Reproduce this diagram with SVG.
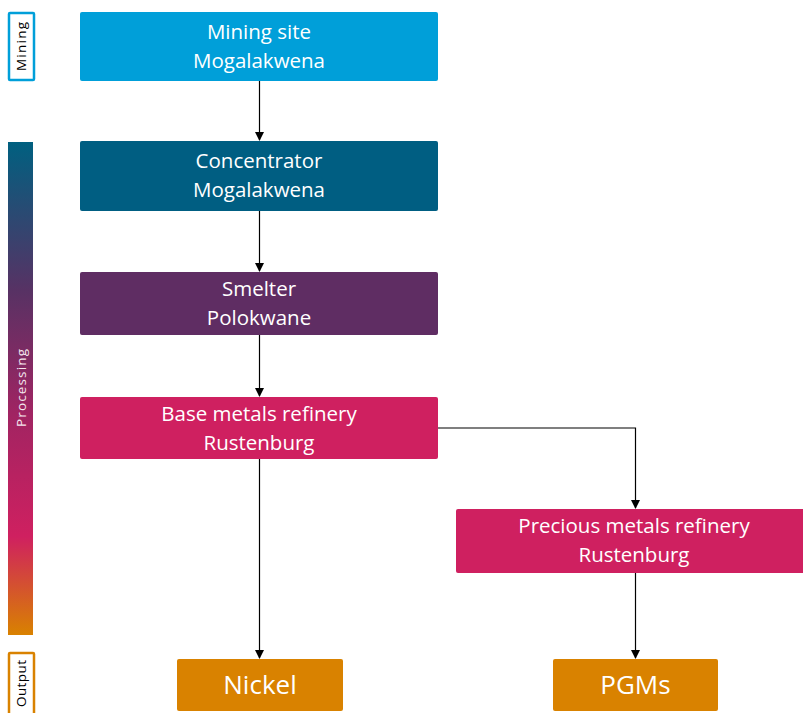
<svg xmlns="http://www.w3.org/2000/svg" width="803" height="713" viewBox="0 0 803 713">
<defs>
<linearGradient id="procGrad" x1="0" y1="0" x2="0" y2="1">
<stop offset="0" stop-color="#006080"/>
<stop offset="0.3" stop-color="#573264"/>
<stop offset="0.55" stop-color="#a02462"/>
<stop offset="0.8" stop-color="#cf2060"/>
<stop offset="1" stop-color="#d98200"/>
</linearGradient>
<marker id="arr" markerWidth="10" markerHeight="10" refX="8" refY="4.5" orient="auto" markerUnits="userSpaceOnUse">
<path d="M0,0 L9,4.5 L0,9 Z" fill="#000"/>
</marker>
<style>
.box text{font-family:"Open Sans","Liberation Sans",sans-serif;font-size:20.5px;fill:#fff;text-anchor:middle}
.out text{font-size:26px}
.side{font-family:"Open Sans","Liberation Sans",sans-serif;font-size:13.5px;text-anchor:middle}
.conn path{fill:none;stroke:#000;stroke-width:1.2;marker-end:url(#arr)}
</style>
</defs>
<rect width="803" height="713" fill="#fff"/>

<g id="label-mining">
<rect x="9" y="13" width="25" height="67" fill="#fff" stroke="#009fd9" stroke-width="2.5" rx="1"/>
<text class="side" transform="translate(26,46.5) rotate(-90)" fill="#000" textLength="49" lengthAdjust="spacing">Mining</text>
</g>
<g id="label-processing">
<rect x="8" y="142" width="25" height="493" fill="url(#procGrad)"/>
<text class="side" transform="translate(25.5,388) rotate(-90)" fill="#f4e6ee" textLength="78" lengthAdjust="spacing">Processing</text>
</g>
<g id="label-output">
<rect x="9" y="653" width="25" height="80" fill="#fff" stroke="#d98200" stroke-width="2.5" rx="1"/>
<text class="side" transform="translate(26,683.5) rotate(-90)" fill="#000" textLength="47" lengthAdjust="spacing">Output</text>
</g>

<g class="conn" id="connectors">
<path d="M259.5,81 V140"/>
<path d="M259.5,211 V271"/>
<path d="M259.5,335 V396"/>
<path d="M259.5,459 V658"/>
<path d="M438,428 H635.5 V508"/>
<path d="M635.5,573 V658"/>
</g>

<g class="box" id="mining-site">
<rect x="80" y="12" width="358" height="69" rx="2" fill="#009fd9"/>
<text x="259" y="39">Mining site</text>
<text x="259" y="68">Mogalakwena</text>
</g>
<g class="box" id="concentrator">
<rect x="80" y="141" width="358" height="70" rx="2" fill="#005e82"/>
<text x="259" y="168">Concentrator</text>
<text x="259" y="197">Mogalakwena</text>
</g>
<g class="box" id="smelter">
<rect x="80" y="272" width="358" height="63" rx="2" fill="#5f2d63"/>
<text x="259" y="296">Smelter</text>
<text x="259" y="325">Polokwane</text>
</g>
<g class="box" id="base-metals-refinery">
<rect x="80" y="397" width="358" height="62" rx="2" fill="#cf2060"/>
<text x="259" y="421">Base metals refinery</text>
<text x="259" y="450">Rustenburg</text>
</g>
<g class="box" id="precious-metals-refinery">
<rect x="456" y="509" width="352" height="64" rx="2" fill="#cf2060"/>
<text x="634" y="533">Precious metals refinery</text>
<text x="634" y="562">Rustenburg</text>
</g>
<g class="box out" id="nickel">
<rect x="177" y="659" width="166" height="52" rx="2" fill="#d98200"/>
<text x="260" y="694">Nickel</text>
</g>
<g class="box out" id="pgms">
<rect x="553" y="659" width="165" height="52" rx="2" fill="#d98200"/>
<text x="635.5" y="694">PGMs</text>
</g>
</svg>
